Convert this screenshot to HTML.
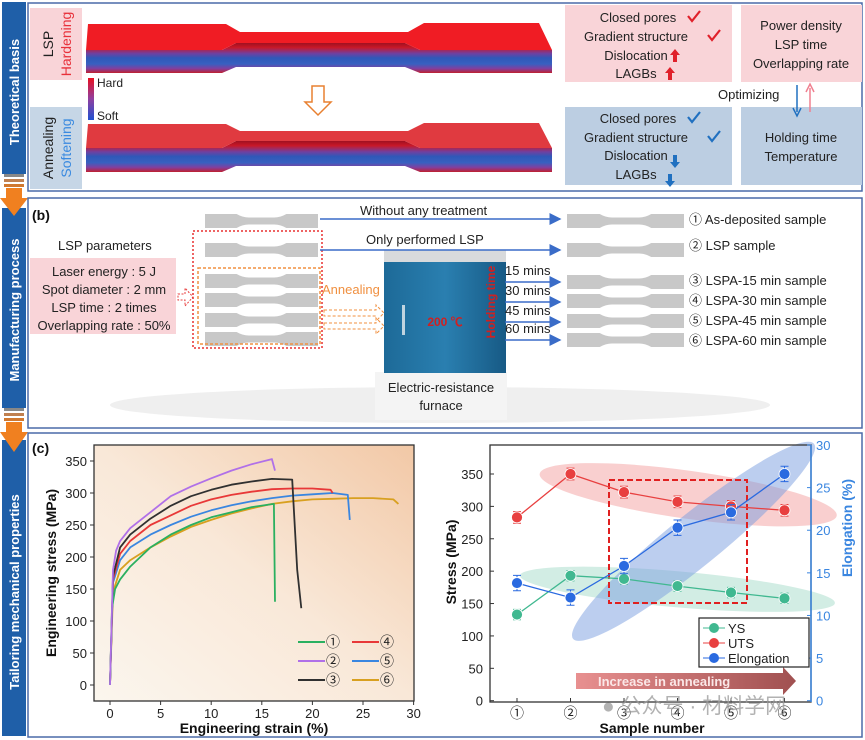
<!DOCTYPE html>
<html><head><meta charset="utf-8">
<style>
body{margin:0;background:#fff;}
#root{position:relative;width:865px;height:740px;overflow:hidden;font-family:"Liberation Sans","Noto Sans CJK SC",sans-serif;}
svg text{font-family:"Liberation Sans","Noto Sans CJK SC",sans-serif;}
</style></head>
<body>
<div id="root">
<svg id="fig" width="865" height="740" viewBox="0 0 865 740" xmlns="http://www.w3.org/2000/svg">
<defs>
<linearGradient id="side" x1="0" y1="0" x2="0" y2="1">
<stop offset="0" stop-color="#a01020"/><stop offset="0.15" stop-color="#c81828"/><stop offset="0.35" stop-color="#7040a0"/><stop offset="0.5" stop-color="#2f58b8"/><stop offset="0.7" stop-color="#3860c0"/><stop offset="0.85" stop-color="#8040a0"/><stop offset="1" stop-color="#c02030"/>
</linearGradient>
<linearGradient id="cbar" x1="0" y1="0" x2="0" y2="1"><stop offset="0" stop-color="#e81020"/><stop offset="0.5" stop-color="#9040a0"/><stop offset="1" stop-color="#2050d0"/></linearGradient>
<linearGradient id="bgc" x1="0" y1="1" x2="1" y2="0"><stop offset="0" stop-color="#fbf6ee"/><stop offset="0.5" stop-color="#f9e8d8"/><stop offset="1" stop-color="#f2c8a6"/></linearGradient>
<linearGradient id="arrg" x1="0" y1="0" x2="1" y2="0"><stop offset="0" stop-color="#e89090"/><stop offset="1" stop-color="#a05050"/></linearGradient>
<linearGradient id="furn" x1="0" y1="0" x2="1" y2="0"><stop offset="0" stop-color="#1d6a98"/><stop offset="0.5" stop-color="#2a7fb0"/><stop offset="1" stop-color="#175a85"/></linearGradient>
<marker id="ab" markerWidth="8" markerHeight="8" refX="7" refY="4" orient="auto"><path d="M0,0 L8,4 L0,8 z" fill="#3a6cc8"/></marker>
</defs>

<!-- sidebar -->
<g>
<rect x="2" y="2" width="24" height="172" fill="#1f5fa8"/>
<text transform="translate(19,92) rotate(-90)" text-anchor="middle" font-size="13" font-weight="bold" fill="#fff">Theoretical basis</text>
<rect x="4" y="174" width="20" height="3" fill="#888"/><rect x="4" y="179" width="20" height="3" fill="#c08050"/><rect x="4" y="184" width="20" height="3" fill="#d07830"/>
<rect x="2" y="208" width="24" height="200" fill="#1f5fa8"/>
<path d="M6,188 H22 V198 H28 L14,216 L0,198 H6 Z" fill="#f08020"/>
<text transform="translate(19,310) rotate(-90)" text-anchor="middle" font-size="13" font-weight="bold" fill="#fff">Manufacturing process</text>
<rect x="4" y="408" width="20" height="3" fill="#888"/><rect x="4" y="413" width="20" height="3" fill="#c08050"/><rect x="4" y="418" width="20" height="3" fill="#d07830"/>
<rect x="2" y="440" width="24" height="296" fill="#1f5fa8"/>
<path d="M6,422 H22 V432 H28 L14,452 L0,432 H6 Z" fill="#f08020"/>
<text transform="translate(19,592) rotate(-90)" text-anchor="middle" font-size="13" font-weight="bold" fill="#fff">Tailoring mechanical properties</text>
</g>

<!-- panel a -->
<g>
<rect x="28" y="3" width="834" height="188" fill="none" stroke="#4a6aa8" stroke-width="1.5"/>
<text x="32" y="19" font-size="14" font-weight="bold" fill="#111">(a)</text>
<rect x="30" y="8" width="52" height="72" fill="#f9d4d8"/>
<text transform="translate(53,44) rotate(-90)" text-anchor="middle" font-size="14" fill="#222">LSP</text>
<text transform="translate(71,44) rotate(-90)" text-anchor="middle" font-size="14" fill="#e8303a">Hardening</text>
<rect x="30" y="107" width="52" height="82" fill="#c6d6e6"/>
<text transform="translate(53,148) rotate(-90)" text-anchor="middle" font-size="14" fill="#222">Annealing</text>
<text transform="translate(71,148) rotate(-90)" text-anchor="middle" font-size="14" fill="#3a8ae0">Softening</text>
<g>
<path d="M86,50 L222,50 L236,43 L405,43 L420,50 L552,50 L552,73 L420,73 L405,67 L236,67 L222,73 L86,73 Z" fill="url(#side)"/>
<path d="M88,24 L226,24 L240,32 L408,32 L424,23 L539,23 L552,50 L420,50 L405,43 L236,43 L222,50 L86,50 Z" fill="#f01c24"/>
</g>
<g>
<path d="M86,148 L222,148 L236,141 L405,141 L420,148 L552,148 L552,172 L420,172 L405,166 L236,166 L222,172 L86,172 Z" fill="url(#side)"/>
<path d="M88,124 L226,124 L240,131 L408,131 L424,123 L539,123 L552,148 L420,148 L405,141 L236,141 L222,148 L86,148 Z" fill="#e03a40"/>
</g>
<rect x="88" y="78" width="6" height="42" fill="url(#cbar)"/>
<text x="97" y="87" font-size="12" fill="#222">Hard</text>
<text x="97" y="120" font-size="12" fill="#222">Soft</text>
<path d="M312,86 H324 V102 H331 L318,115 L305,102 H312 Z" fill="#fff" stroke="#e88030" stroke-width="1.5"/>
<rect x="565" y="5" width="167" height="77" fill="#f9d4d8"/>
<rect x="741" y="5" width="121" height="77" fill="#f9d4d8"/>
<rect x="565" y="107" width="167" height="78" fill="#bccee2"/>
<rect x="741" y="107" width="121" height="78" fill="#bccee2"/>
<g font-size="13" fill="#222" text-anchor="middle">
<text x="638" y="22">Closed pores</text><text x="636" y="41">Gradient structure</text><text x="636" y="60">Dislocation</text><text x="636" y="78">LAGBs</text>
<text x="638" y="123">Closed pores</text><text x="636" y="142">Gradient structure</text><text x="636" y="160">Dislocation</text><text x="636" y="179">LAGBs</text>
<text x="801" y="30">Power density</text><text x="801" y="49">LSP time</text><text x="801" y="68">Overlapping rate</text>
<text x="801" y="142">Holding time</text><text x="801" y="161">Temperature</text>
</g>
<g fill="none" stroke-width="2.2">
<path d="M688,16 L692,21 L700,11" stroke="#e0202a"/><path d="M708,35 L712,40 L720,30" stroke="#e0202a"/>
<path d="M688,117 L692,122 L700,112" stroke="#2070c0"/><path d="M708,136 L712,141 L720,131" stroke="#2070c0"/>
</g>
<path d="M673,62 V55 H670 L675,49 L680,55 H677 V62 Z" fill="#e0202a"/><path d="M668,80 V73 H665 L670,67 L675,73 H672 V80 Z" fill="#e0202a"/>
<path d="M673,155 V162 H670 L675,168 L680,162 H677 V155 Z" fill="#2070c0"/><path d="M668,174 V181 H665 L670,187 L675,181 H672 V174 Z" fill="#2070c0"/>
<text x="718" y="99" font-size="13" fill="#222">Optimizing</text>
<line x1="797" y1="85" x2="797" y2="112" stroke="#2070c0" stroke-width="1.5"/><path d="M793,108 L797,116 L801,108" fill="none" stroke="#2070c0" stroke-width="1.5"/>
<line x1="810" y1="112" x2="810" y2="88" stroke="#f08090" stroke-width="1.5"/><path d="M806,92 L810,84 L814,92" fill="none" stroke="#f08090" stroke-width="1.5"/>
</g>

<!-- panel b -->
<g>
<rect x="28" y="198" width="834" height="230" fill="none" stroke="#4a6aa8" stroke-width="1.5"/>
<text x="32" y="220" font-size="14" font-weight="bold" fill="#111">(b)</text>
<ellipse cx="440" cy="405" rx="330" ry="18" fill="#e8e8e8" opacity="0.7"/>
<text x="58" y="250" font-size="13" fill="#222">LSP parameters</text>
<rect x="30" y="258" width="146" height="76" fill="#f9d4d8"/>
<g font-size="13" fill="#222" text-anchor="middle">
<text x="104" y="276">Laser energy : 5 J</text><text x="104" y="294">Spot diameter : 2 mm</text><text x="104" y="312">LSP time : 2 times</text><text x="104" y="330">Overlapping rate : 50%</text>
</g>
<path d="M178,294 H185 V288 L193,297 L185,306 V300 H178 Z" fill="none" stroke="#e84040" stroke-dasharray="2,1.5"/>
<g id="specsL" fill="#c8c8c8"></g>
<g id="specsR" fill="#c8c8c8"></g>
<rect x="193" y="231" width="129" height="117" fill="none" stroke="#e83030" stroke-width="1.5" stroke-dasharray="2,2"/>
<rect x="198" y="268" width="122" height="76" fill="none" stroke="#f09040" stroke-width="1.5" stroke-dasharray="3,2"/>
<text x="322" y="294" font-size="13" fill="#f09040">Annealing</text>
<path d="M324,310 H376 V305 L384,313 L376,321 V316 H324 Z" fill="none" stroke="#f09040" stroke-dasharray="3,2"/>
<path d="M324,323 H376 V318 L384,326 L376,334 V329 H324 Z" fill="none" stroke="#f09040" stroke-dasharray="3,2"/>
<g>
<rect x="375" y="372" width="132" height="48" fill="#f4f4f4"/>
<rect x="384" y="250" width="122" height="14" fill="#d8dadc"/>
<rect x="384" y="262" width="122" height="111" fill="url(#furn)"/>
<rect x="402" y="305" width="3" height="30" fill="#c0d4e0"/>
<text x="445" y="326" font-size="12" font-weight="bold" fill="#d02020" text-anchor="middle">200 ℃</text>
<text transform="translate(495,302) rotate(-90)" font-size="12" font-weight="bold" fill="#d02020" text-anchor="middle">Holding time</text>
<text x="441" y="392" font-size="13" fill="#222" text-anchor="middle">Electric-resistance</text>
<text x="441" y="410" font-size="13" fill="#222" text-anchor="middle">furnace</text>
</g>
<g stroke="#3a6cc8" stroke-width="1.5" marker-end="url(#ab)">
<line x1="320" y1="219" x2="560" y2="219"/><line x1="320" y1="250" x2="560" y2="250"/>
<line x1="505" y1="282" x2="560" y2="282"/><line x1="505" y1="302" x2="560" y2="302"/><line x1="505" y1="322" x2="560" y2="322"/><line x1="505" y1="340" x2="560" y2="340"/>
</g>
<g font-size="13" fill="#222">
<text x="360" y="215">Without any treatment</text><text x="366" y="244">Only performed LSP</text>
<text x="505" y="275">15 mins</text><text x="505" y="295">30 mins</text><text x="505" y="315">45 mins</text><text x="505" y="333">60 mins</text>
<text x="689" y="224">① As-deposited  sample</text><text x="689" y="250">② LSP sample</text>
<text x="689" y="285">③ LSPA-15 min sample</text><text x="689" y="305">④ LSPA-30 min sample</text><text x="689" y="325">⑤ LSPA-45 min sample</text><text x="689" y="345">⑥ LSPA-60 min sample</text>
</g>
</g>

<!-- panel c -->
<g>
<rect x="28" y="433" width="834" height="304" fill="none" stroke="#4a6aa8" stroke-width="1.5"/>
<text x="32" y="453" font-size="14" font-weight="bold" fill="#111">(c)</text>
</g>
<g id="chartL"></g>
<g id="chartR"></g>
</svg>
</div>
<script>
// ---- stress-strain data ----
const ssNames = ['①','②','③','④','⑤','⑥'];
const ssColors = ['#2ab060','#b070e8','#303030','#e83838','#3a86e0','#d8a020'];
const ss1Strain = [0,0.2,0.5,1,2,4,6,8,10,12,14,16.2,16.3];
const ss1Stress = [0,120,150,165,185,215,235,250,262,270,278,283,130];
const ss2Strain = [0,0.3,0.6,1,2,4,6,8,10,12,14,16,16.3];
const ss2Stress = [0,180,210,225,245,270,295,310,323,335,345,353,335];
const ss3Strain = [0,0.3,1,2,4,6,8,10,12,14,16,18,18.5,18.9];
const ss3Stress = [0,170,215,235,260,280,295,305,313,318,322,321,180,120];
const ss4Strain = [0,0.3,1,2,4,6,8,10,12,14,16,18,20,21.8,22];
const ss4Stress = [0,165,205,225,250,265,280,290,297,302,306,307,307,305,300];
const ss5Strain = [0,0.3,1,2,4,6,8,10,12,14,16,18,20,22,23.5,23.7];
const ss5Stress = [0,160,195,215,235,250,263,273,281,287,292,296,298,300,297,258];
const ss6Strain = [0,0.3,1,2,4,6,8,10,12,14,16,18,20,22,24,26,28,28.5];
const ss6Stress = [0,145,180,195,215,232,247,258,268,276,283,287,290,291,292,292,290,283];
const ssXTicks = [0,5,10,15,20,25,30];
const ssYTicks = [0,50,100,150,200,250,300,350];
// ---- property data ----
const samples = ['①','②','③','④','⑤','⑥'];
const ysVals = [133,193,188,177,167,158];
const utsVals = [283,350,322,307,300,294];
const elongVals = [13.8,12.1,15.8,20.3,22.1,26.6];
const stressTicks = [0,50,100,150,200,250,300,350];
const elongTicks = [0,5,10,15,20,25,30];

const NS='http://www.w3.org/2000/svg';
function mk(tag, attrs, parent){const e=document.createElementNS(NS,tag);for(const k in attrs)e.setAttribute(k,attrs[k]);parent.appendChild(e);return e;}

// specimens in panel b
const sL=document.getElementById('specsL'), sR=document.getElementById('specsR');
function spec(x,y,w,h,p){const g=w*0.28;return mk('path',{d:`M${x},${y} H${x+g} Q${x+g+6},${y+h*0.25} ${x+g+12},${y+h*0.25} H${x+w-g-12} Q${x+w-g-6},${y+h*0.25} ${x+w-g},${y} H${x+w} V${y+h} H${x+w-g} Q${x+w-g-6},${y+h*0.75} ${x+w-g-12},${y+h*0.75} H${x+g+12} Q${x+g+6},${y+h*0.75} ${x+g},${y+h} H${x} Z`},p);}
[[214],[243],[274],[293],[313],[332]].forEach((r,i)=>{const a=spec(205,r[0],113,14,sL);const b=spec(567,r[0]+(i<2?0:1),117,14,sR);});

// ---- left chart ----
const L=document.getElementById('chartL');
const lx0=94,lx1=414,ly0=701,ly1=445;
const sx=v=>110+v*(363-110)/25;
const sy=v=>685-v*(685-461)/350;
let r=mk('rect',{x:lx0,y:ly1,width:lx1-lx0,height:ly0-ly1,fill:'url(#bgc)',stroke:'#333','stroke-width':1.3},L);


ssXTicks.forEach(t=>{mk('line',{x1:sx(t),x2:sx(t),y1:ly0,y2:ly0+4,stroke:'#333'},L);const tx=mk('text',{x:sx(t),y:ly0+17,'font-size':13,'text-anchor':'middle',fill:'#222'},L);tx.textContent=t;

});
ssYTicks.forEach(t=>{mk('line',{x1:lx0-4,x2:lx0,y1:sy(t),y2:sy(t),stroke:'#333'},L);const tx=mk('text',{x:lx0-7,y:sy(t)+5,'font-size':13,'text-anchor':'end',fill:'#222'},L);tx.textContent=t;

});
let t1=mk('text',{x:254,y:733,'font-size':14,'font-weight':'bold','text-anchor':'middle',fill:'#111'},L);t1.textContent='Engineering strain (%)';


let t2=mk('text',{transform:'translate(56,573) rotate(-90)','font-size':14,'font-weight':'bold','text-anchor':'middle',fill:'#111'},L);t2.textContent='Engineering stress (MPa)';


const ssX=[ss1Strain,ss2Strain,ss3Strain,ss4Strain,ss5Strain,ss6Strain];
const ssY=[ss1Stress,ss2Stress,ss3Stress,ss4Stress,ss5Stress,ss6Stress];
const order=[5,4,3,2,0,1];
order.forEach(i=>{const d=ssX[i].map((v,j)=>(j?'L':'M')+sx(v).toFixed(1)+','+sy(ssY[i][j]).toFixed(1)).join(' ');
const p=mk('path',{d:d,fill:'none',stroke:ssColors[i],'stroke-width':1.8,'stroke-linejoin':'round'},L);

});
[[0,298,642],[1,298,661],[2,298,680],[3,352,642],[4,352,661],[5,352,680]].forEach(a=>{const i=a[0];mk('line',{x1:a[1],x2:a[1]+27,y1:a[2],y2:a[2],stroke:ssColors[i],'stroke-width':2},L);
const tx=mk('text',{x:a[1]+28,y:a[2]+5,'font-size':14,fill:'#222'},L);tx.textContent=ssNames[i];

});

// ---- right chart ----
const R=document.getElementById('chartR');
const rx0=490,rx1=811,ry0=702,ry1=445;
const px=i=>517+i*(784.5-517)/5;
const py=v=>700.7-v*(700.7-474)/350;
const pe=v=>700.7-v*(700.7-445)/30;
mk('rect',{x:rx0,y:ry1,width:rx1-rx0,height:ry0-ry1,fill:'#fff'},R);
let e1=mk('ellipse',{cx:px(3.2),cy:py(318),rx:150,ry:24,transform:`rotate(8 ${px(3.2)} ${py(318)})`,fill:'#f4a0a0',opacity:0.5},R);


let e2=mk('ellipse',{cx:px(3),cy:py(172),rx:158,ry:18,transform:`rotate(5 ${px(3)} ${py(172)})`,fill:'#9cd8c4',opacity:0.45},R);


let e3=mk('ellipse',{cx:px(3.3),cy:pe(18.7),rx:155,ry:26,transform:`rotate(-39 ${px(3.3)} ${pe(18.7)})`,fill:'#7a9ee0',opacity:0.5},R);


mk('rect',{x:rx0,y:ry1,width:rx1-rx0,height:ry0-ry1,fill:'none',stroke:'#333','stroke-width':1.3},R);
mk('line',{x1:rx1,x2:rx1,y1:ry1,y2:ry0,stroke:'#3a86e0','stroke-width':1.5},R);
stressTicks.forEach(t=>{mk('line',{x1:rx0,x2:rx0+4,y1:py(t),y2:py(t),stroke:'#333'},R);const tx=mk('text',{x:rx0-7,y:py(t)+5,'font-size':13,'text-anchor':'end',fill:'#222'},R);tx.textContent=t;

});
elongTicks.forEach(t=>{mk('line',{x1:rx1-4,x2:rx1,y1:pe(t),y2:pe(t),stroke:'#3a86e0'},R);const tx=mk('text',{x:rx1+5,y:pe(t)+5,'font-size':13,fill:'#3a86e0'},R);tx.textContent=t;

});
samples.forEach((s,i)=>{mk('line',{x1:px(i),x2:px(i),y1:ry0,y2:ry0-4,stroke:'#333'},R);const tx=mk('text',{x:px(i),y:ry0+16,'font-size':14,'text-anchor':'middle',fill:'#222'},R);tx.textContent=s;

});
let a1=mk('text',{x:652,y:733,'font-size':14,'font-weight':'bold','text-anchor':'middle',fill:'#111'},R);a1.textContent='Sample number';


let a2=mk('text',{transform:'translate(456,562) rotate(-90)','font-size':14,'font-weight':'bold','text-anchor':'middle',fill:'#111'},R);a2.textContent='Stress (MPa)';


let a3=mk('text',{transform:'translate(852,528) rotate(-90)','font-size':14,'font-weight':'bold','text-anchor':'middle',fill:'#3a86e0'},R);a3.textContent='Elongation (%)';


let db=mk('rect',{x:609,y:480,width:138,height:123,fill:'none',stroke:'#e02020','stroke-width':2,'stroke-dasharray':'6,3'},R);


let ar=mk('path',{d:'M576,673 H783 V667 L796,681 L783,695 V689 H576 Z',fill:'url(#arrg)'},R);


let at=mk('text',{x:598,y:686,'font-size':13,'font-weight':'bold',fill:'#fbe8e8'},R);at.textContent='Increase in annealing';


function series(vals,yf,col,name,err){
 const d=vals.map((v,i)=>(i?'L':'M')+px(i)+','+yf(v).toFixed(1)).join(' ');
 const p=mk('path',{d:d,fill:'none',stroke:col,'stroke-width':1.3},R);
 
 
 vals.forEach((v,i)=>{const x=px(i),y=yf(v),e=Math.abs(yf(v+err)-y);
  mk('path',{d:`M${x},${y-e} V${y+e} M${x-4},${y-e} H${x+4} M${x-4},${y+e} H${x+4}`,stroke:col,'stroke-width':1,fill:'none'},R);
  const c=mk('circle',{cx:x,cy:y,r:5.5,fill:col,stroke:'#fff','stroke-width':0.8},R);
  
  });
}
series(ysVals,py,'#40b890','ys',8);
series(utsVals,py,'#e84040','uts',9);
series(elongVals,pe,'#2a6ae0','elongation',0.9);
let lg=mk('rect',{x:699,y:618,width:110,height:49,fill:'#fff',stroke:'#222','stroke-width':1.2},R);


[['YS','#40b890',628],['UTS','#e84040',643],['Elongation','#2a6ae0',658]].forEach(a=>{mk('line',{x1:703,x2:725,y1:a[2],y2:a[2],stroke:a[1]},R);mk('circle',{cx:714,cy:a[2],r:5,fill:a[1]},R);
const tx=mk('text',{x:728,y:a[2]+5,'font-size':13,fill:'#222'},R);tx.textContent=a[0];

});
let wm=mk('text',{x:602,y:713,'font-size':21,fill:'#999',opacity:0.75},R);wm.textContent='● 公众号 · 材料学网';


</script>
</body></html>
